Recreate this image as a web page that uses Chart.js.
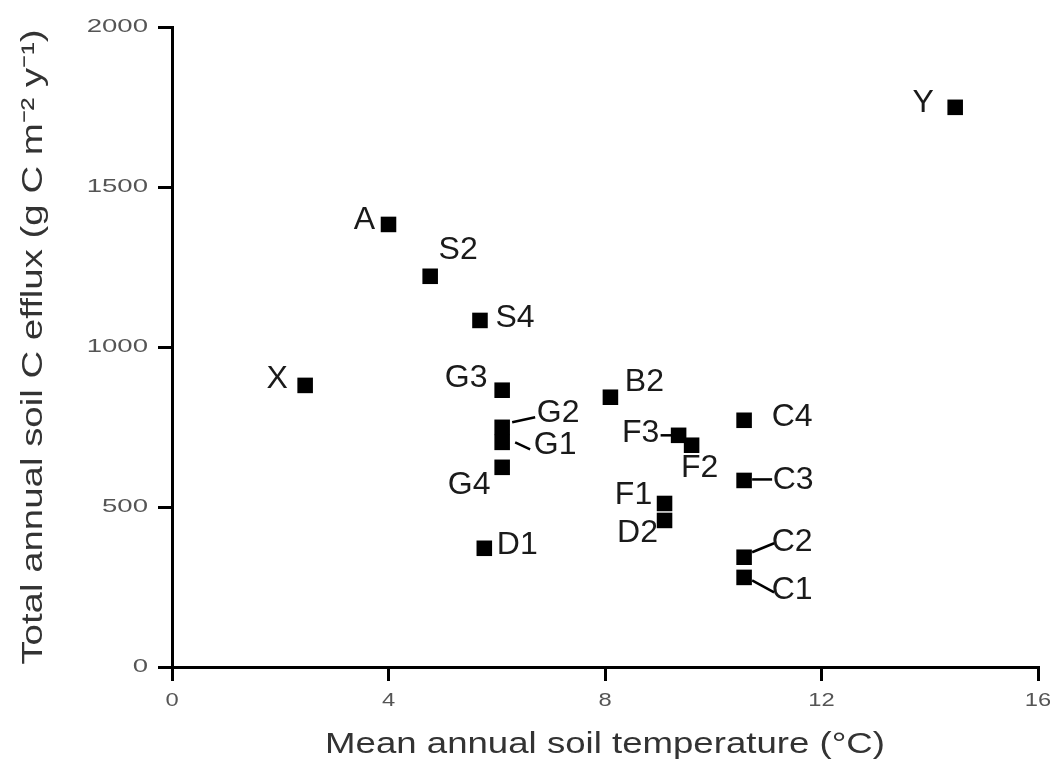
<!DOCTYPE html>
<html>
<head>
<meta charset="utf-8">
<script src="https://cdn.jsdelivr.net/npm/chart.js@4.4.1/dist/chart.umd.min.js"></script>
<style>
  html, body { margin: 0; padding: 0; background: #fff; }
  #wrap { width: 1050px; height: 778px; }
</style>
</head>
<body>
<div id="wrap"><canvas id="efflux-chart" width="1050" height="778"></canvas></div>
<script>
// sites, mean annual soil temperature (°C), total annual soil C efflux (g C m-2 y-1)
const sites = ['Y', 'A', 'S2', 'S4', 'X', 'G3', 'G2', 'G1', 'G4', 'D1', 'B2', 'F3', 'F2', 'C4', 'C3', 'F1', 'D2', 'C2', 'C1'];
const soilTemp = [14.47, 4.0, 4.77, 5.69, 2.46, 6.1, 6.1, 6.1, 6.1, 5.77, 8.1, 9.36, 9.6, 10.57, 10.57, 9.1, 9.1, 10.57, 10.57];
const soilEfflux = [1749, 1383, 1221, 1083, 880, 865, 749, 702, 624, 371, 843, 724, 693, 771, 583, 511, 458, 343, 280];

const xTicks = [0, 4, 8, 12, 16];
const yTicks = [0, 500, 1000, 1500, 2000];
const xTitle = 'Mean annual soil temperature (°C)';
const yTitle = 'Total annual soil C efflux (g C m⁻² y⁻¹)';

// where each site name sits relative to its point, and leader lines
const labelPos = {
  Y:  { dx: -32, dy: -4 },
  A:  { dx: -24, dy: -4 },
  S2: { dx: 28, dy: -26 },
  S4: { dx: 35, dy: -2 },
  X:  { dx: -28, dy: -6 },
  G3: { dx: -36, dy: -12 },
  G2: { dx: 56, dy: -14, lead: [10, -5, 33, -10] },
  G1: { dx: 53, dy: 3, lead: [13, 0, 28, 7] },
  G4: { dx: -33, dy: 18 },
  D1: { dx: 33, dy: -3 },
  B2: { dx: 34, dy: -15 },
  F3: { dx: -38, dy: -2, lead: [-18, 0, -3, 0] },
  F2: { dx: 8, dy: 23 },
  C4: { dx: 48, dy: -3 },
  C3: { dx: 49, dy: 0, lead: [8, -1, 28, -1] },
  F1: { dx: -31, dy: -8 },
  D2: { dx: -27, dy: 13 },
  C2: { dx: 48, dy: -15, lead: [8, -5, 30, -14] },
  C1: { dx: 48, dy: 13, lead: [8, 3, 30, 15] }
};

const FONT = '"Liberation Sans", Arial, sans-serif';

// the scanned figure has horizontally widened lettering
function wideText(ctx, text, x, y, sx, rot) {
  ctx.save();
  ctx.translate(x, y);
  if (rot) ctx.rotate(rot);
  ctx.scale(sx, 1);
  ctx.fillText(text, 0, 0);
  ctx.restore();
}

const axisText = {
  id: 'axisText',
  afterDraw(chart) {
    const ctx = chart.ctx;
    const xs = chart.scales.x, ys = chart.scales.y;
    ctx.save();
    ctx.textBaseline = 'middle';

    ctx.fillStyle = '#555';
    ctx.font = '19px ' + FONT;
    ctx.textAlign = 'right';
    yTicks.forEach(v => wideText(ctx, String(v), 148, ys.getPixelForValue(v), 1.45));
    ctx.textAlign = 'center';
    xTicks.forEach(v => wideText(ctx, String(v), xs.getPixelForValue(v), 701, 1.25));

    ctx.fillStyle = '#333';
    ctx.font = '30px ' + FONT;
    wideText(ctx, xTitle, (xs.left + xs.right) / 2, 745, 1.22);
    wideText(ctx, yTitle, 34, (ys.top + ys.bottom) / 2, 1.28, -Math.PI / 2);
    ctx.restore();
  }
};

const siteLabels = {
  id: 'siteLabels',
  afterDatasetsDraw(chart) {
    const ctx = chart.ctx;
    const pts = chart.getDatasetMeta(0).data;
    ctx.save();
    ctx.font = '32px ' + FONT;
    ctx.fillStyle = '#1a1a1a';
    ctx.textAlign = 'center';
    ctx.textBaseline = 'middle';
    ctx.strokeStyle = '#000';
    ctx.lineWidth = 2.5;
    pts.forEach((p, i) => {
      const o = labelPos[sites[i]];
      ctx.fillText(sites[i], p.x + o.dx, p.y + o.dy);
      if (o.lead) {
        ctx.beginPath();
        ctx.moveTo(p.x + o.lead[0], p.y + o.lead[1]);
        ctx.lineTo(p.x + o.lead[2], p.y + o.lead[3]);
        ctx.stroke();
      }
    });
    ctx.restore();
  }
};

const points = soilTemp.map((t, i) => ({ x: t, y: soilEfflux[i] }));

const config = {
  type: 'scatter',
  data: {
    datasets: [{
      data: points,
      pointStyle: 'rect',
      pointRadius: 11,
      pointHoverRadius: 11,
      backgroundColor: '#000',
      borderColor: '#000',
      borderWidth: 0
    }]
  },
  options: {
    responsive: false,
    animation: false,
    layout: {
      padding: { top: 27, right: 12, left: 0, bottom: 0 }
    },
    scales: {
      x: {
        type: 'linear',
        min: 0,
        max: 16,
        afterBuildTicks: s => { s.ticks = xTicks.map(v => ({ value: v })); },
        afterFit: s => { s.height = 111; },
        border: { color: '#000', width: 3 },
        grid: { drawOnChartArea: false, drawTicks: true, tickLength: 14, color: '#000', lineWidth: 3 },
        ticks: { display: false }
      },
      y: {
        type: 'linear',
        min: 0,
        max: 2000,
        afterBuildTicks: s => { s.ticks = yTicks.map(v => ({ value: v })); },
        afterFit: s => { s.width = 172; },
        border: { color: '#000', width: 3 },
        grid: { drawOnChartArea: false, drawTicks: true, tickLength: 14, color: '#000', lineWidth: 3 },
        ticks: { display: false }
      }
    },
    plugins: {
      legend: { display: false },
      tooltip: { enabled: false }
    }
  },
  plugins: [siteLabels, axisText]
};

const myChart = new Chart(document.getElementById('efflux-chart'), config);
</script>
</body>
</html>
